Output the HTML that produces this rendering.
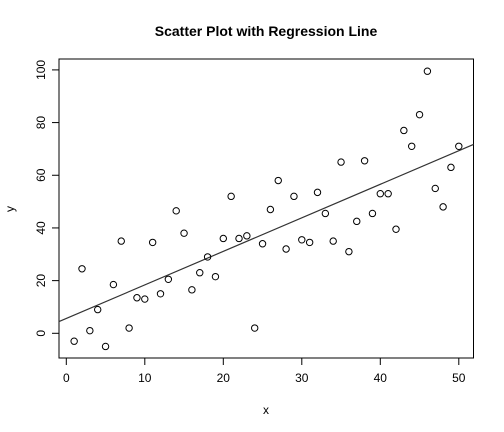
<!DOCTYPE html>
<html><head><meta charset="utf-8"><style>
body{margin:0;background:#fff}
svg{display:block;font-family:"Liberation Sans",Arial,sans-serif}
</style></head><body>
<svg id="chart" width="504" height="432">
<text x="266" y="36" text-anchor="middle" font-size="14" font-weight="bold">Scatter Plot with Regression Line</text>
<rect x="59" y="59" width="414.5" height="299" fill="none" stroke="#000" stroke-width="1"/>
<g id="xaxis"></g>
<g id="yaxis"></g>
<text x="266" y="414" text-anchor="middle" font-size="12">x</text>
<text transform="translate(14,209) rotate(-90)" text-anchor="middle" font-size="12">y</text>
<g id="marks"></g>
</svg>
<script>
const xValues=[1,2,3,4,5,6,7,8,9,10,11,12,13,14,15,16,17,18,19,20,21,22,23,24,25,26,27,28,29,30,31,32,33,34,35,36,37,38,39,40,41,42,43,44,45,46,47,48,49,50];
const yValues=[-3,24.5,1,9,-5,18.5,35,2,13.5,13,34.5,15,20.5,46.5,38,16.5,23,29,21.5,36,52,36,37,2,34,47,58,32,52,35.5,34.5,53.5,45.5,35,65,31,42.5,65.5,45.5,53,53,39.5,77,71,83,99.5,55,48,63,71];
const xTicks=[0,10,20,30,40,50];
const yTicks=[0,20,40,60,80,100];
const NS="http://www.w3.org/2000/svg";
const sx=v=>66.3+v*7.85;
const sy=v=>333.3-v*2.634;
const svg=document.getElementById('chart');
function mk(t,a,p){const e=document.createElementNS(NS,t);for(const k in a)e.setAttribute(k,a[k]);(p||svg).appendChild(e);return e;}
const xa=document.getElementById('xaxis'),ya=document.getElementById('yaxis'),mg=document.getElementById('marks');
mk('line',{x1:sx(0),x2:sx(50),y1:358,y2:358,stroke:'#000'},xa);
xTicks.forEach(t=>{
 mk('line',{x1:sx(t),x2:sx(t),y1:358,y2:365,stroke:'#000'},xa);
 const tx=mk('text',{x:sx(t),y:382,'text-anchor':'middle','font-size':12},xa);tx.textContent=t;
 
 
});
mk('line',{x1:59,x2:59,y1:sy(0),y2:sy(100),stroke:'#000'},ya);
yTicks.forEach(t=>{
 mk('line',{x1:52,x2:59,y1:sy(t),y2:sy(t),stroke:'#000'},ya);
 const tx=mk('text',{transform:`translate(45,${sy(t)}) rotate(-90)`,'text-anchor':'middle','font-size':12},ya);tx.textContent=t;
 
 
});
const n=xValues.length;let mx=0,my=0;xValues.forEach((x,i)=>{mx+=x;my+=yValues[i]});mx/=n;my/=n;
let sxy=0,sxx=0;xValues.forEach((x,i)=>{sxy+=(x-mx)*(yValues[i]-my);sxx+=(x-mx)**2});
const b=sxy/sxx,a=my-b*mx;
const x0=(59-66.3)/7.85,x1=(473.5-66.3)/7.85;
const ln=mk('line',{x1:59,x2:473.5,y1:sy(a+b*x0),y2:sy(a+b*x1),stroke:'#333','stroke-width':1.2},mg);


xValues.forEach((x,i)=>{
 const c=mk('circle',{cx:sx(x),cy:sy(yValues[i]),r:3.2,fill:'none',stroke:'#000','stroke-width':1},mg);
 
 
});
</script>
</body></html>
